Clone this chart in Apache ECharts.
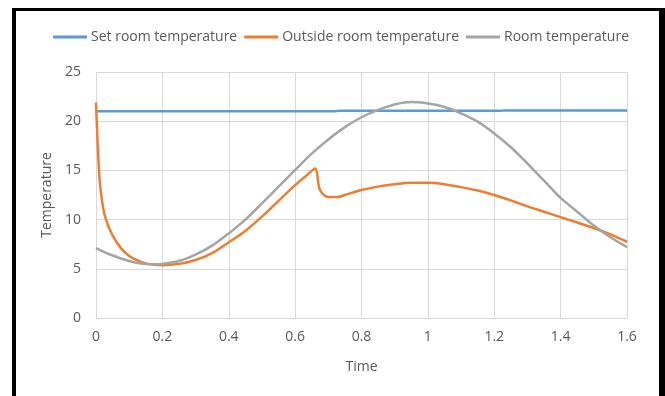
<!DOCTYPE html>
<html>
<head>
<meta charset="utf-8">
<script src="https://cdn.jsdelivr.net/npm/echarts@6/dist/echarts.min.js"></script>
<style>
  html, body { margin: 0; padding: 0; background: #fff; }
  #chart { position: absolute; left: 0; top: 0; width: 665px; height: 396px; }
  #frame {
    position: absolute; left: 12px; top: 8px; width: 653px; height: 400px;
    box-sizing: border-box; border-left: 4px solid #000; border-top: 3px solid #000;
    border-right: 6px solid #000; pointer-events: none;
  }
</style>
</head>
<body>
<div id="chart"></div>
<div id="frame"></div>
<script>
// Set room temperature (nearly flat)
var setTime = [0, 0.72, 0.73, 1.22, 1.23, 1.6];
var setTemp = [21.0, 21.0, 21.05, 21.05, 21.1, 21.1];

// Outside room temperature
var outsideTime = [0, 0.01, 0.02, 0.03, 0.05, 0.075, 0.1, 0.125, 0.15, 0.175, 0.2, 0.25, 0.3, 0.35, 0.4, 0.45, 0.5, 0.55, 0.6, 0.63, 0.66, 0.675, 0.7, 0.73, 0.75, 0.8, 0.85, 0.9, 0.95, 1.0, 1.05, 1.1, 1.15, 1.2, 1.25, 1.3, 1.35, 1.4, 1.45, 1.5, 1.55, 1.6];
var outsideTemp = [21.9, 14.5, 11.5, 10.0, 8.4, 7.1, 6.3, 5.85, 5.55, 5.42, 5.37, 5.5, 5.9, 6.6, 7.7, 8.85, 10.3, 11.9, 13.5, 14.35, 15.2, 13.0, 12.3, 12.3, 12.5, 13.0, 13.35, 13.6, 13.75, 13.75, 13.6, 13.3, 12.95, 12.5, 11.95, 11.35, 10.8, 10.25, 9.7, 9.15, 8.5, 7.75];

// Room temperature
var roomTime = [0, 0.025, 0.05, 0.075, 0.1, 0.125, 0.15, 0.175, 0.2, 0.25, 0.3, 0.35, 0.4, 0.45, 0.5, 0.55, 0.6, 0.65, 0.7, 0.75, 0.8, 0.85, 0.9, 0.95, 1.0, 1.05, 1.1, 1.15, 1.2, 1.25, 1.3, 1.35, 1.4, 1.45, 1.5, 1.55, 1.6];
var roomTemp = [7.1, 6.7, 6.35, 6.05, 5.8, 5.6, 5.5, 5.45, 5.5, 5.8, 6.45, 7.35, 8.6, 10.0, 11.65, 13.35, 15.05, 16.7, 18.15, 19.4, 20.4, 21.15, 21.7, 21.95, 21.8, 21.45, 20.8, 19.95, 18.75, 17.35, 15.7, 13.95, 12.2, 10.8, 9.4, 8.2, 7.2];

function pairs(xs, ys) {
    return xs.map(function (x, i) { return [x, ys[i]]; });
}

var dom = document.getElementById("chart");
var myChart = echarts.init(dom);
var font = "'Open Sans', sans-serif";
var grey = '#595959';

var option = {
    animation: false,
    backgroundColor: '#fff',
    textStyle: { fontFamily: font },
    legend: {
        left: 53,
        top: 30,
        padding: 0,
        itemWidth: 34,
        itemHeight: 3,
        itemGap: 7,
        icon: 'rect',
        textStyle: { fontFamily: font, fontSize: 14, color: grey, padding: [0, 0, 0, -1] },
        data: [
            { name: 'Set room temperature', itemStyle: { color: '#5B9BD5' } },
            { name: 'Outside room temperature', itemStyle: { color: '#ED7D31' } },
            { name: 'Room temperature', itemStyle: { color: '#A5A5A5' } }
        ]
    },
    grid: { left: 96, right: 38, top: 72, bottom: 78 },
    xAxis: {
        type: 'value',
        min: 0,
        max: 1.6,
        interval: 0.2,
        name: 'Time',
        nameLocation: 'middle',
        nameGap: 42,
        nameTextStyle: { fontFamily: font, fontSize: 14, color: grey },
        axisLine: { lineStyle: { color: '#D9D9D9' } },
        axisTick: { show: false },
        axisLabel: { fontFamily: font, fontSize: 14, color: grey, margin: 12 },
        splitLine: { show: true, lineStyle: { color: '#D9D9D9' } }
    },
    yAxis: {
        type: 'value',
        min: 0,
        max: 25,
        interval: 5,
        name: 'Temperature',
        nameLocation: 'middle',
        nameGap: 39,
        nameRotate: 90,
        nameTextStyle: { fontFamily: font, fontSize: 14, color: grey },
        axisLine: { show: false },
        axisTick: { show: false },
        axisLabel: { fontFamily: font, fontSize: 14, color: grey, margin: 15 },
        splitLine: { lineStyle: { color: '#D9D9D9' } }
    },
    series: [{
        name: 'Set room temperature',
        type: 'line',
        showSymbol: false,
        lineStyle: { color: '#5B9BD5', width: 2.5 },
        itemStyle: { color: '#5B9BD5' },
        data: pairs(setTime, setTemp)
    }, {
        name: 'Outside room temperature',
        type: 'line',
        showSymbol: false,
        smooth: 0.3,
        lineStyle: { color: '#ED7D31', width: 2.5 },
        itemStyle: { color: '#ED7D31' },
        data: pairs(outsideTime, outsideTemp)
    }, {
        name: 'Room temperature',
        type: 'line',
        showSymbol: false,
        smooth: 0.3,
        lineStyle: { color: '#A5A5A5', width: 2.5 },
        itemStyle: { color: '#A5A5A5' },
        data: pairs(roomTime, roomTemp)
    }]
};
myChart.setOption(option, true);
</script>
</body>
</html>
